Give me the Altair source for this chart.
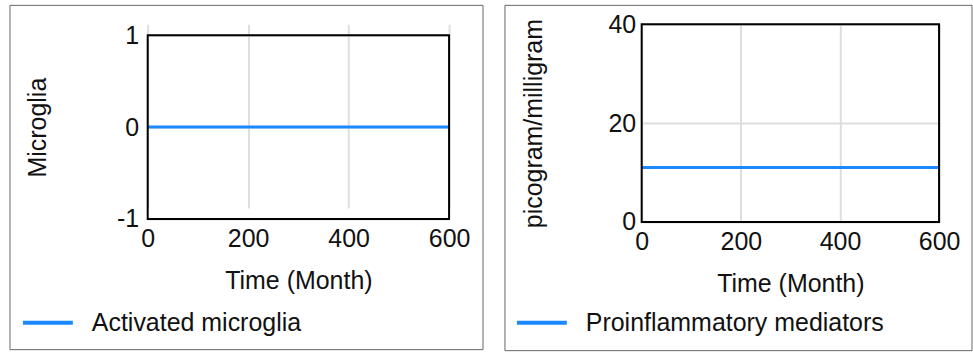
import altair as alt
import pandas as pd

# Simulation output: both stocks stay flat over the 600-month horizon
time_months = [0, 600]
activated_microglia = [0, 0]
proinflammatory_mediators = [11, 11]

x_ticks = [0, 200, 400, 600]
microglia_ticks = [-1, 0, 1]
mediator_ticks = [0, 20, 40]

LINE_BLUE = "#1a88ff"
FONT = "Liberation Sans"
TEXT = "#111111"
FS = 25


def panel(values, series, y_title, y_domain, y_ticks, width, height, y_range,
          frame, y_label_pad, y_title_pos):
    df = pd.DataFrame({"time": time_months, "value": values, "series": series})

    x_enc = alt.X(
        "time:Q",
        scale=alt.Scale(domain=[0, 600], nice=False),
        axis=alt.Axis(values=x_ticks, title="Time (Month)", labelFlush=False,
                      labelPadding=8, titlePadding=17, grid=True),
    )
    y_enc = alt.Y(
        "value:Q",
        scale=alt.Scale(domain=y_domain, range=y_range, nice=False, zero=False),
        axis=alt.Axis(values=y_ticks, title=y_title, labelFlush=False,
                      labelExpr="'' + datum.value",
                      labelPadding=y_label_pad, grid=True,
                      titleAngle=270, titleAlign="center", titleBaseline="middle",
                      titleX=y_title_pos[0], titleY=y_title_pos[1]),
    )

    line = alt.Chart(df).mark_line(strokeWidth=3, clip=False).encode(
        x=x_enc,
        y=y_enc,
        color=alt.Color(
            "series:N",
            scale=alt.Scale(domain=[series], range=[LINE_BLUE]),
            legend=alt.Legend(title=None, orient="none", legendX=-127, legendY=272,
                              symbolType="stroke", symbolSize=2500,
                              symbolStrokeWidth=4, labelFontSize=FS,
                              labelFont=FONT, labelColor=TEXT, labelOffset=17,
                              padding=0, labelLimit=400),
        ),
    )

    one = alt.Data(values=[{"k": 0}])
    plot_box = alt.Chart(one).mark_rect(filled=False, stroke="#000000", strokeWidth=2).encode(
        x=alt.value(0), x2=alt.value(width),
        y=alt.value(y_range[1]), y2=alt.value(y_range[0]),
    )
    fx0, fx1, fy0, fy1 = frame
    outer_box = alt.Chart(one).mark_rect(filled=False, stroke="#666666", strokeWidth=1).encode(
        x=alt.value(fx0), x2=alt.value(fx1), y=alt.value(fy0), y2=alt.value(fy1),
    )
    return alt.layer(line, plot_box, outer_box).properties(width=width, height=height)


left = panel(activated_microglia, "Activated microglia", "Microglia", [-1, 1],
             microglia_ticks, 302, 195, [195, 11], (-138, 336, -19, 326), 9,
             (-110, 103))
right = panel(proinflammatory_mediators, "Proinflammatory mediators",
              "picogram/milligram", [0, 40], mediator_ticks, 298, 198, [198, 0],
              (-137, 331, -19, 327), 6, (-108, 99))

chart = (
    alt.hconcat(left, right, spacing=20)
    .resolve_scale(color="independent", x="independent", y="independent")
    .resolve_legend(color="independent")
    .properties(padding={"left": 9, "top": 4, "right": 0, "bottom": 0}, background="white")
    .configure_view(strokeWidth=0)
    .configure_axis(labelFont=FONT, titleFont=FONT, labelFontSize=FS, titleFontSize=FS,
                    labelColor=TEXT, titleColor=TEXT, titleFontWeight="normal",
                    ticks=False, domain=False, gridColor="#dedede", gridWidth=2)
)

chart.save("out.html", embed_options={"renderer": "svg", "actions": False})
